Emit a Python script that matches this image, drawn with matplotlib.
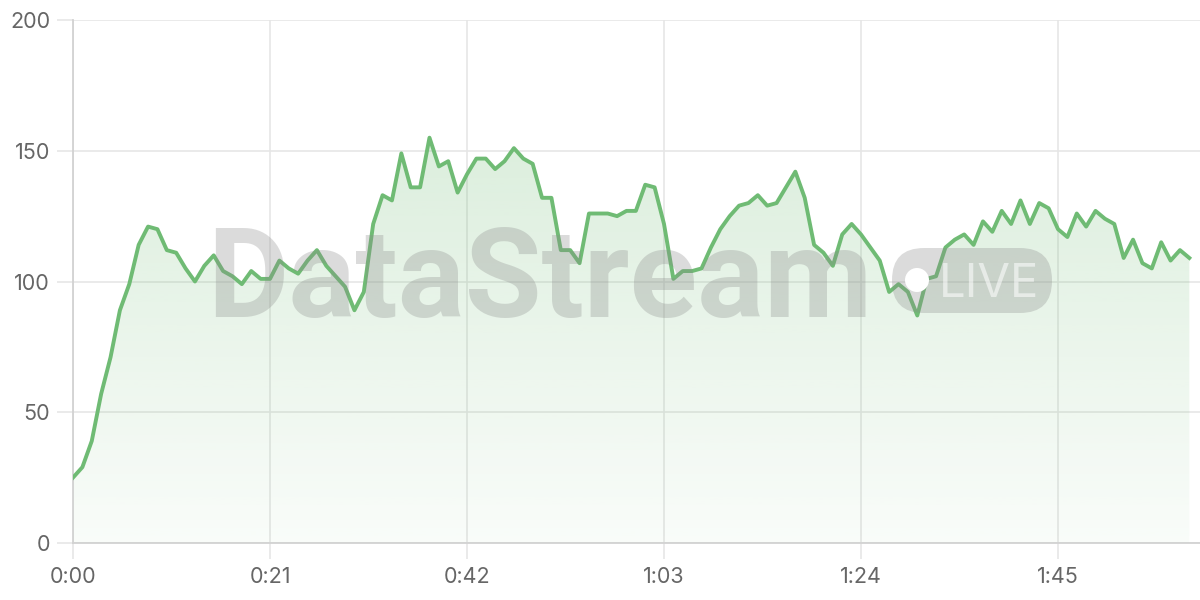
import matplotlib
matplotlib.use("Agg")
import matplotlib.pyplot as plt
import numpy as np
from matplotlib.patches import FancyBboxPatch, Circle

plt.rcParams['font.family'] = ['Inter', 'DejaVu Sans']

# heart rate style series, one reading per second
seconds = list(range(120))
values = [25, 29, 39, 57, 71, 89, 99, 114, 121, 120,
          112, 111, 105, 100, 106, 110, 104, 102, 99, 104,
          101, 101, 108, 105, 103, 108, 112, 106, 102, 98,
          89, 96, 122, 133, 131, 149, 136, 136, 155, 144,
          146, 134, 141, 147, 147, 143, 146, 151, 147, 145,
          132, 132, 112, 112, 107, 126, 126, 126, 125, 127,
          127, 137, 136, 122, 101, 104, 104, 105, 113, 120,
          125, 129, 130, 133, 129, 130, 136, 142, 132, 114,
          111, 106, 118, 122, 118, 113, 108, 96, 99, 96,
          87, 101, 102, 113, 116, 118, 114, 123, 119, 127,
          122, 131, 122, 130, 128, 120, 117, 126, 121, 127,
          124, 122, 109, 116, 107, 105, 115, 108, 112, 109]
x_ticks = [0, 21, 42, 63, 84, 105]
x_labels = ['0:00', '0:21', '0:42', '1:03', '1:24', '1:45']
y_ticks = [0, 50, 100, 150, 200]

green = '#6fbb74'
grid_c = '#e6e6e6'
text_c = '#666666'

fig = plt.figure(figsize=(12, 6), dpi=100)
ax = fig.add_axes([73 / 1200, 1 - 543 / 600, 1127 / 1200, 523 / 600])

# gradient fill under the line
fill = ax.fill_between(seconds, values, 0, color='none', lw=0)
rgba = np.zeros((256, 1, 4))
rgba[..., 0], rgba[..., 1], rgba[..., 2] = matplotlib.colors.to_rgb(green)
rgba[:, 0, 3] = np.linspace(0.04, 0.25, 256)
img = ax.imshow(rgba, extent=[0, 119, 0, 160], origin='lower', aspect='auto', zorder=1)
img.set_clip_path(fill.get_paths()[0], transform=ax.transData)

ax.plot(seconds, values, color=green, lw=2.8, zorder=4)

ax.set_xlim(0, 1127 / 9.381)
ax.set_ylim(0, 200)
ax.set_xticks(x_ticks)
ax.set_xticklabels(x_labels)
ax.set_yticks(y_ticks)
ax.grid(True, color=grid_c, lw=1.2, zorder=0)
ax.tick_params(axis='both', length=11.5, width=1.2, color=grid_c, labelcolor=text_c,
               labelsize=15.5)
ax.tick_params(axis='y', pad=5)
ax.tick_params(axis='x', pad=6)
for s in ['top', 'right']:
    ax.spines[s].set_visible(False)
for s in ['left', 'bottom']:
    ax.spines[s].set_color('#d2d2d2')
    ax.spines[s].set_linewidth(1.3)
ax.set_axisbelow(True)

# watermark
wm = '#8a8a8a'
fig.text(207 / 1200, 1 - 317 / 600, 'DataStream', fontsize=90, fontweight='bold',
         family='Roboto', color=wm, alpha=0.3, ha='left', va='baseline', zorder=3)
pill = FancyBboxPatch((892, 600 - 313), 160, 65, boxstyle='round,pad=0,rounding_size=32',
                      transform=None, facecolor=wm, alpha=0.3, edgecolor='none', zorder=3)
fig.patches.append(pill)
fig.patches.append(Circle((917, 600 - 280), 12, transform=None, facecolor='white',
                          edgecolor='none', zorder=3.1))
fig.text(939 / 1200, 1 - 297 / 600, 'LIVE', fontsize=34, color='white', alpha=0.55,
         ha='left', va='baseline', zorder=3.2)

fig.savefig('out.png', dpi=100)
